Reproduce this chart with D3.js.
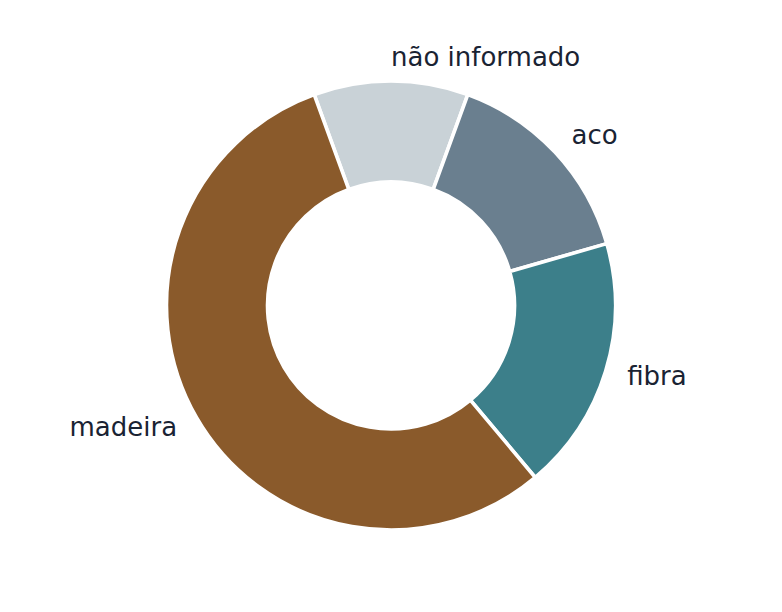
<!DOCTYPE html>
<html>
<head>
<meta charset="utf-8">
<script src="https://cdn.jsdelivr.net/npm/d3@7"></script>
<style>
  body { margin: 0; background: #fff; }
  svg { display: block; }
</style>
</head>
<body>
<svg id="chart" width="782" height="612"></svg>
<script>
// dados
const categorias = ["não informado", "aco", "fibra", "madeira"];
const valores = [20, 27, 33, 100];
const cores = ["#c9d2d7", "#6a7f8f", "#3c7f8a", "#8a5a2b"];

const svg = d3.select("#chart");
const cx = 391, cy = 305.5;
const raio = 224.5;
const raioInterno = raio * 0.55;

const pie = d3.pie()
    .sort(null)
    .value(d => d)
    .startAngle(-20 * Math.PI / 180)
    .endAngle(340 * Math.PI / 180);

const arcos = pie(valores);

const arco = d3.arc()
    .innerRadius(raioInterno)
    .outerRadius(raio);

const g = svg.append("g").attr("transform", `translate(${cx},${cy})`);

// fatias
g.selectAll("path")
    .data(arcos)
    .join("path")
    .attr("d", arco)
    .attr("fill", (d, i) => cores[i])
    .attr("stroke", "white")
    .attr("stroke-width", 3.6)
    .attr("stroke-linejoin", "miter");

// rótulos
const distRotulo = raio * 1.1;
g.selectAll("text")
    .data(arcos)
    .join("text")
    .attr("x", d => Math.sin((d.startAngle + d.endAngle) / 2) * distRotulo)
    .attr("y", d => -Math.cos((d.startAngle + d.endAngle) / 2) * distRotulo)
    .attr("dy", 7)
    .attr("text-anchor", d => Math.sin((d.startAngle + d.endAngle) / 2) >= -1e-9 ? "start" : "end")
    .attr("font-family", "DejaVu Sans")
    .attr("font-size", 26)
    .attr("fill", "#1a2333")
    .text((d, i) => categorias[i]);
</script>
</body>
</html>
